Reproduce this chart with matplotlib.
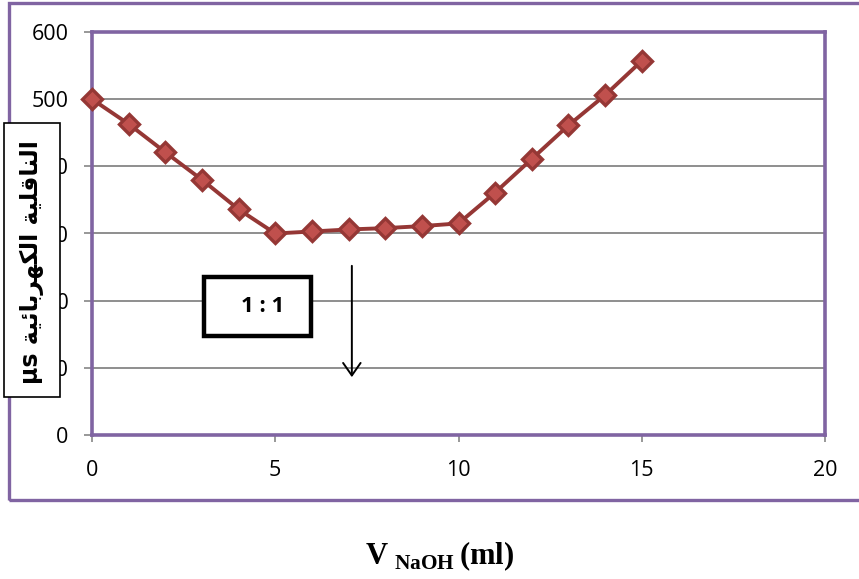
import matplotlib
matplotlib.use("Agg")
import matplotlib.pyplot as plt
from matplotlib.patches import Rectangle

# titration data: volume of NaOH (ml) vs conductivity (µs)
volume_ml = [0, 1, 2, 3, 4, 5, 6, 7, 8, 9, 10, 11, 12, 13, 14, 15]
conductivity = [500, 463, 421, 380, 336, 300, 303, 306, 308, 311, 315, 361, 411, 461, 506, 557]
x_ticks = [0, 5, 10, 15, 20]
y_ticks = [0, 100, 200, 300, 400, 500, 600]
ratio_label = "1 : 1"

# Arabic y label "الناقلية الكهربائية µs" pre-shaped (presentation forms, visual order)
word1 = "\uFE8D\uFEDF\uFEE8\uFE8E\uFED7\uFEE0\uFEF4\uFE94"            # الناقلية
word2 = "\uFE8D\uFEDF\uFEDC\uFEEC\uFEAE\uFE91\uFE8E\uFE8B\uFEF4\uFE94"  # الكهربائية
y_label = "\u00b5s " + (word1 + " " + word2)[::-1]

purple = "#8064a2"
line_col = "#953735"
marker_face = "#c0504d"
grid_col = "#868686"

plt.rcParams["mathtext.fontset"] = "custom"
plt.rcParams["mathtext.bf"] = "Liberation Serif:bold"
plt.rcParams["mathtext.rm"] = "Liberation Serif"

fig = plt.figure(figsize=(8.59, 5.79), dpi=100)
ax = fig.add_axes([92 / 859, 1 - 435 / 579, 733 / 859, 403 / 579])

ax.plot(volume_ml, conductivity, color=line_col, lw=2.8, marker="D",
        markersize=10, markerfacecolor=marker_face, markeredgecolor=line_col,
        markeredgewidth=2.4, zorder=5, clip_on=False)

ax.set_xlim(0, 20)
ax.set_ylim(0, 600)
ax.set_xticks(x_ticks)
ax.set_yticks(y_ticks)
ax.yaxis.grid(True, color=grid_col, lw=1.3)
ax.set_axisbelow(True)
for s in ax.spines.values():
    s.set_color(purple)
    s.set_linewidth(2.6)
ax.tick_params(axis="both", colors=grid_col, labelcolor="black", labelsize=15.5)
ax.tick_params(axis="y", length=6, width=1.2, pad=11)
ax.tick_params(axis="x", length=5, width=1.2, pad=13)
for lbl in ax.get_xticklabels() + ax.get_yticklabels():
    lbl.set_family("Open Sans")

# outer chart frame
fig.patches.append(Rectangle((9 / 859, 1 - 500 / 579), 1.0, 497 / 579,
                             transform=fig.transFigure, fill=False,
                             edgecolor=purple, lw=2.4, zorder=0))

# y label box covering the tick labels
fig.patches.append(Rectangle((4 / 859, 1 - 397 / 579), 56 / 859, 274 / 579,
                             transform=fig.transFigure, facecolor="white",
                             edgecolor="black", lw=1.2, zorder=10))
fig.text(32 / 859, 1 - 262 / 579, y_label, rotation=90, ha="center", va="center",
         fontsize=17, fontweight="bold", family="DejaVu Sans", zorder=11)

# ratio box
fig.patches.append(Rectangle((204 / 859, 1 - 336 / 579), 107 / 859, 59 / 579,
                             transform=fig.transFigure, facecolor="white",
                             edgecolor="black", lw=3.2, zorder=10))
fig.text(263 / 859, 1 - 307 / 579, ratio_label, ha="center", va="center",
         fontsize=16, fontweight="bold", family="Open Sans", zorder=11)

# equivalence arrow
ax.annotate("", xy=(7.09, 82), xytext=(7.09, 256),
            arrowprops=dict(arrowstyle="->,head_length=0.5,head_width=0.35",
                            color="black", lw=1.4, mutation_scale=18))

# x label
fig.text(440 / 859, 1 - 556 / 579, r"$\mathbf{V}_{\ \mathbf{NaOH}}\,\mathbf{(ml)}$",
         ha="center", va="center", fontsize=22)

fig.savefig("out.png", dpi=100)
